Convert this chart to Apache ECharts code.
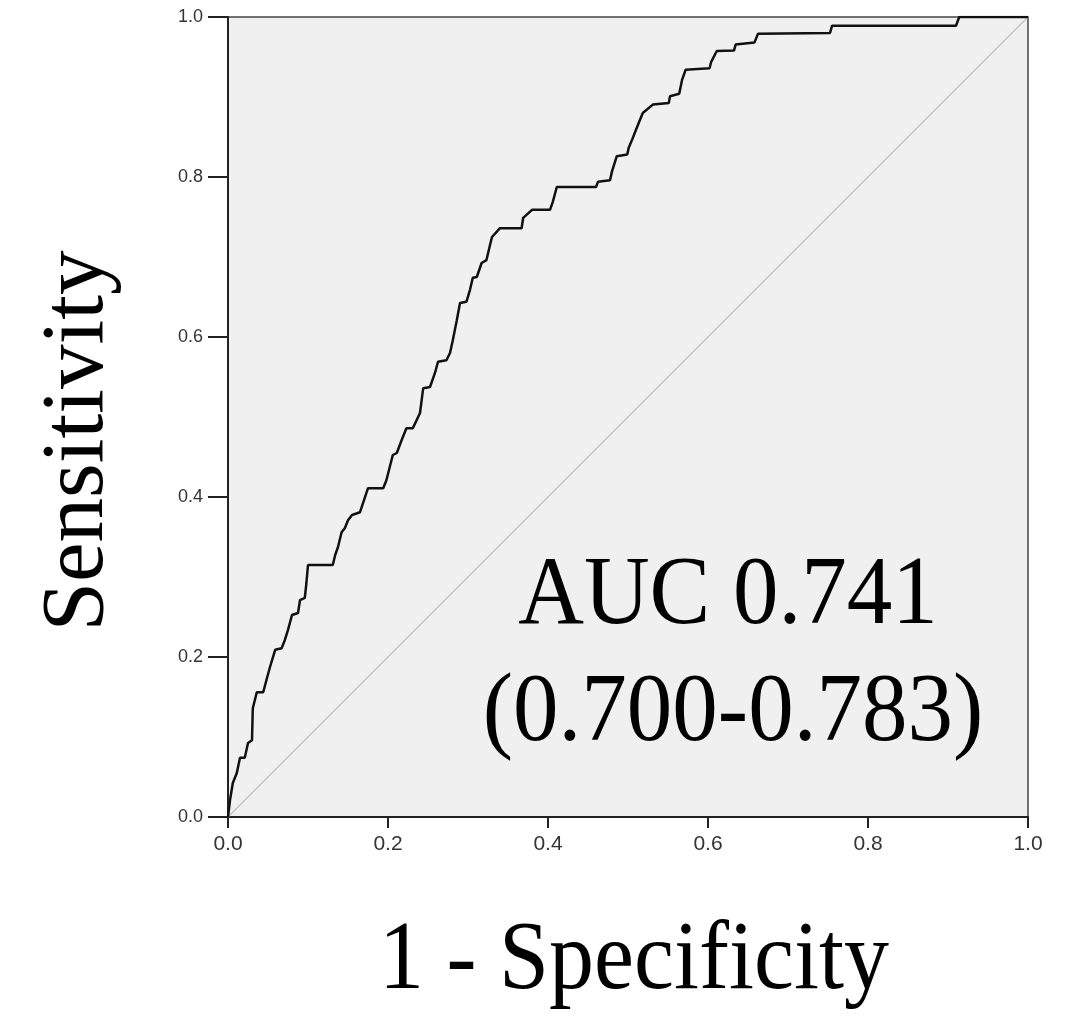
<!DOCTYPE html>
<html>
<head>
<meta charset="utf-8">
<script src="https://cdn.jsdelivr.net/npm/echarts@6/dist/echarts.min.js"></script>
<style>
html,body{margin:0;padding:0;background:#fff;}
#chart{width:1078px;height:1017px;}
</style>
</head>
<body>
<div id="chart"></div>
<script>
// ROC curve points: [1 - specificity, sensitivity]
const rocFpr = [0, 0.0025, 0.006, 0.011, 0.015, 0.021, 0.025, 0.030, 0.031, 0.036, 0.044, 0.048, 0.0525, 0.059, 0.067, 0.071, 0.075, 0.080, 0.0875, 0.090, 0.096, 0.098, 0.100, 0.131, 0.134, 0.1375, 0.142, 0.146, 0.150, 0.155, 0.165, 0.170, 0.175, 0.194, 0.198, 0.206, 0.211, 0.217, 0.223, 0.231, 0.240, 0.244, 0.2525, 0.259, 0.2625, 0.273, 0.2775, 0.281, 0.286, 0.290, 0.298, 0.3025, 0.306, 0.311, 0.317, 0.323, 0.3275, 0.330, 0.340, 0.367, 0.369, 0.380, 0.4025, 0.406, 0.411, 0.460, 0.4625, 0.4775, 0.480, 0.486, 0.499, 0.501, 0.5055, 0.510, 0.514, 0.5185, 0.531, 0.551, 0.5525, 0.564, 0.5675, 0.572, 0.602, 0.604, 0.611, 0.6325, 0.6345, 0.658, 0.6625, 0.7525, 0.755, 0.910, 0.914, 1.0];
const rocTpr = [0, 0.021, 0.0425, 0.055, 0.074, 0.074, 0.0925, 0.096, 0.136, 0.156, 0.156, 0.171, 0.1875, 0.209, 0.211, 0.221, 0.234, 0.2525, 0.255, 0.271, 0.274, 0.2925, 0.315, 0.315, 0.3275, 0.3375, 0.356, 0.361, 0.371, 0.3775, 0.381, 0.396, 0.411, 0.411, 0.421, 0.4525, 0.455, 0.471, 0.486, 0.486, 0.505, 0.536, 0.5375, 0.556, 0.569, 0.571, 0.580, 0.596, 0.621, 0.6425, 0.644, 0.659, 0.674, 0.675, 0.6925, 0.696, 0.715, 0.725, 0.736, 0.736, 0.749, 0.759, 0.759, 0.769, 0.7875, 0.7875, 0.794, 0.796, 0.807, 0.826, 0.828, 0.837, 0.8475, 0.859, 0.869, 0.880, 0.8905, 0.8925, 0.901, 0.904, 0.921, 0.934, 0.936, 0.944, 0.9575, 0.958, 0.9655, 0.968, 0.979, 0.980, 0.989, 0.989, 1.0, 1.0];
const refLine = [[0, 0], [1, 1]];
const tickLabels = ['0.0', '0.2', '0.4', '0.6', '0.8', '1.0'];
const xTitle = '1 - Specificity';
const yTitle = 'Sensitivity';
const aucLine1 = 'AUC 0.741';
const aucLine2 = '(0.700-0.783)';

const rocData = rocFpr.map((x, i) => [x, rocTpr[i]]);
const chart = echarts.init(document.getElementById('chart'), null, {renderer: 'canvas'});
const serif = '"Liberation Serif", "Times New Roman", serif';
const sans = '"Liberation Sans", Arial, sans-serif';
chart.setOption({
  animation: false,
  backgroundColor: '#ffffff',
  grid: {left: 228, top: 17, width: 800, height: 800, show: true, backgroundColor: '#f0f0f0', borderColor: '#444', borderWidth: 1.5},
  xAxis: {
    type: 'value', min: 0, max: 1, interval: 0.2,
    axisLine: {show: true, onZero: false, lineStyle: {color: '#222', width: 2}},
    axisTick: {show: true, inside: false, length: 11, lineStyle: {color: '#222', width: 2}},
    axisLabel: {margin: 17, fontFamily: sans, fontSize: 21, color: '#333', formatter: v => tickLabels[Math.round(v * 5)]},
    splitLine: {show: false}
  },
  yAxis: {
    type: 'value', min: 0, max: 1, interval: 0.2,
    axisLine: {show: true, onZero: false, lineStyle: {color: '#222', width: 2}},
    axisTick: {show: true, inside: false, length: 20, lineStyle: {color: '#222', width: 2}},
    axisLabel: {margin: 25, fontFamily: sans, fontSize: 18, color: '#333', formatter: v => tickLabels[Math.round(v * 5)]},
    splitLine: {show: false}
  },
  series: [
    {type: 'line', data: refLine, symbol: 'none', lineStyle: {color: '#c4c4c4', width: 1.5}, silent: true, z: 2},
    {type: 'line', data: rocData, symbol: 'none', lineStyle: {color: '#111', width: 2.5}, silent: true, z: 3}
  ],
  graphic: [
    {type: 'text', x: 79, y: 441, rotation: Math.PI / 2, style: {text: yTitle, font: '89px ' + serif, fill: '#000', textAlign: 'center', textVerticalAlign: 'middle'}},
    {type: 'text', x: 634, y: 962, scaleY: 1.08, style: {text: xTitle, font: '90px ' + serif, fill: '#000', textAlign: 'center', textVerticalAlign: 'middle'}},
    {type: 'text', x: 728, y: 597, scaleY: 1.08, style: {text: aucLine1, font: '91px ' + serif, fill: '#000', textAlign: 'center', textVerticalAlign: 'middle'}},
    {type: 'text', x: 733, y: 714, scaleY: 1.08, style: {text: aucLine2, font: '91px ' + serif, fill: '#000', textAlign: 'center', textVerticalAlign: 'middle'}}
  ]
});
</script>
</body>
</html>
